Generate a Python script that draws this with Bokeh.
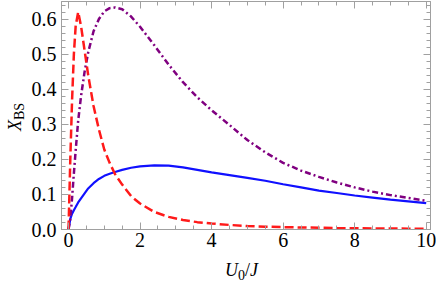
from bokeh.plotting import figure
from bokeh.models import (FixedTicker, PrintfTickFormatter, LinearAxis, Range1d,
                          CustomJSTickFormatter, Div)
from bokeh.layouts import column, row
from bokeh.embed import file_html
from bokeh.resources import INLINE

# ---- data ----
x_vals = [0, 0.05, 0.1, 0.15, 0.2, 0.27, 0.35, 0.45, 0.55, 0.7, 0.85, 1.0, 1.15, 1.3,
          1.5, 1.75, 2.0, 2.4, 2.8, 3.2, 3.6, 4.0, 4.5, 5.0, 5.5, 6.0, 6.5, 7.0, 7.5,
          8.0, 8.5, 9.0, 9.5, 10.0]
blue_solid = [0, 0.030, 0.045, 0.055, 0.064, 0.077, 0.089, 0.103, 0.117, 0.132, 0.144,
              0.153, 0.159, 0.164, 0.170, 0.176, 0.180, 0.183, 0.182, 0.177, 0.170,
              0.163, 0.155, 0.147, 0.139, 0.129, 0.120, 0.111, 0.104, 0.097, 0.091,
              0.085, 0.080, 0.075]
red_dashed = [0, 0.20, 0.37, 0.50, 0.58, 0.62, 0.58, 0.51, 0.44, 0.352, 0.285, 0.228,
              0.19, 0.158, 0.128, 0.095, 0.074, 0.050, 0.036, 0.027, 0.021, 0.017,
              0.013, 0.010, 0.008, 0.0068, 0.0058, 0.005, 0.0042, 0.0036, 0.0031,
              0.0027, 0.0024, 0.0021]
purple_dashdot = [0, 0.03, 0.09, 0.16, 0.225, 0.31, 0.38, 0.45, 0.505, 0.565, 0.60,
                  0.622, 0.631, 0.633, 0.628, 0.607, 0.578, 0.525, 0.47, 0.42, 0.377,
                  0.34, 0.298, 0.255, 0.22, 0.19, 0.168, 0.15, 0.134, 0.12, 0.108,
                  0.098, 0.09, 0.082]
x_ticks = [0, 2, 4, 6, 8, 10]
y_ticks = [0.0, 0.1, 0.2, 0.3, 0.4, 0.5, 0.6]

FONT = "Liberation Serif"
CSS_FONT = "'Liberation Serif', 'Times New Roman', serif"
FRAME = "#a0a0a0"

YLAB_W = 26
P_H = 258

p = figure(width=436 - YLAB_W, height=P_H, output_backend="svg", toolbar_location=None,
           x_range=Range1d(-0.196, 10.12), y_range=Range1d(0, 0.65),
           min_border_left=61 - YLAB_W, min_border_right=6, min_border_top=1,
           min_border_bottom=P_H - 229, x_axis_type=None, y_axis_type=None)
p.grid.visible = False
p.outline_line_color = FRAME
p.background_fill_color = "white"
p.border_fill_color = "white"

x_minor = [i * 0.5 for i in range(0, 21)]
y_minor = [i * 0.02 for i in range(0, 33)]


def make_axis(ticks, minor, fmt, show):
    ax = LinearAxis(ticker=FixedTicker(ticks=ticks, minor_ticks=minor))
    ax.axis_line_color = FRAME
    ax.major_tick_line_color = FRAME
    ax.minor_tick_line_color = FRAME
    ax.major_tick_in = 7
    ax.major_tick_out = 0
    ax.minor_tick_in = 4
    ax.minor_tick_out = 0
    if show:
        ax.formatter = fmt
        ax.major_label_text_font = FONT
        ax.major_label_text_font_size = "20px"
        ax.major_label_text_color = "black"
    else:
        ax.formatter = CustomJSTickFormatter(code="return '';")
        ax.major_label_text_font_size = "1px"
        ax.major_label_standoff = 0
    return ax


xb = make_axis(x_ticks, x_minor, PrintfTickFormatter(format="%d"), True)
xb.major_label_standoff = 3
yl = make_axis(y_ticks, y_minor, PrintfTickFormatter(format="%.1f"), True)
yl.major_label_standoff = 5
xt = make_axis(x_ticks, x_minor, None, False)
yr = make_axis(y_ticks, y_minor, None, False)
p.add_layout(xb, "below")
p.add_layout(yl, "left")
p.add_layout(xt, "above")
p.add_layout(yr, "right")

p.line(x_vals, blue_solid, line_color="#1010ff", line_width=2.2)
p.line(x_vals, purple_dashdot, line_color="#800080", line_width=2.5,
       line_dash="6 3 2 3")
p.line(x_vals, red_dashed, line_color="#ff1a1a", line_width=2.5, line_dash="9 4")

# axis titles as HTML text
ylab_html = (
    f'<div style="margin-top:131px; margin-left:3px; width:max-content; '
    f'white-space:nowrap; transform:rotate(-90deg); transform-origin:0 0; '
    f'font-family:{CSS_FONT}; font-size:18px; color:black;">'
    '<i>X</i><span style="font-size:14px; position:relative; top:3px;">BS</span>'
    '</div>'
)
xlab_html = (
    f'<div style="padding-left:225px; padding-top:3px; white-space:nowrap; '
    f'font-family:{CSS_FONT}; font-size:18px; line-height:18px; color:black;">'
    '<i>U</i><span style="font-size:14px; position:relative; top:4px;">0</span>'
    '/<i>J</i></div>'
)
ylab = Div(text=ylab_html, width=YLAB_W, height=P_H, margin=0)
xlab = Div(text=xlab_html, width=436, height=285 - P_H, margin=0)

layout = column(row(ylab, p, spacing=0), xlab, spacing=0)

open("out.html", "w").write(file_html(layout, INLINE))
